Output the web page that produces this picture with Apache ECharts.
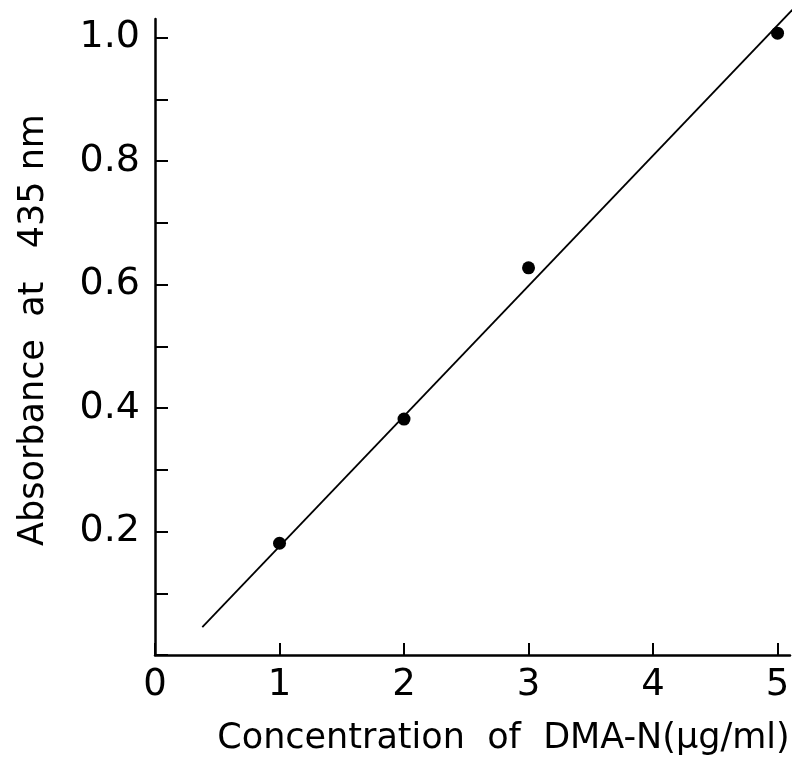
<!DOCTYPE html>
<html>
<head>
<meta charset="utf-8">
<script src="https://cdn.jsdelivr.net/npm/echarts@6/dist/echarts.min.js"></script>
<style>
  html, body { margin: 0; padding: 0; background: #fff; }
  #main { width: 795px; height: 758px; }
</style>
</head>
<body>
<div id="main"></div>
<script>
// concentration (ug/ml) and measured absorbance
const conc = [1, 2, 3, 5];
const absorbance = [0.181, 0.382, 0.627, 1.007];
// drawn calibration line end points
const fitX = [0.38, 5.12];
const fitY = [0.045, 1.045];
const yLabels = ['0.2', '0.4', '0.6', '0.8', '1.0'];

const font = "'DejaVu Sans', sans-serif";
let myChart = echarts.init(document.getElementById('main'));

let option = {
    animation: false,
    grid: {
        left: 155,
        right: 5,
        top: 19,
        bottom: 103,
        containLabel: false,
        outerBoundsMode: 'none'
    },
    xAxis: {
        type: 'value',
        min: 0,
        max: 5.1,
        interval: 1,
        name: 'Concentration  of  DMA-N(\u03bcg/ml)',
        nameLocation: 'middle',
        nameGap: 66,
        nameTextStyle: {
            color: '#000',
            fontFamily: font,
            fontSize: 35,
            padding: [0, 0, 0, 62]
        },
        axisLine: {lineStyle: {color: '#000', width: 2.5}},
        axisTick: {inside: true, length: 12, lineStyle: {color: '#000', width: 2}},
        axisLabel: {
            color: '#000',
            fontFamily: font,
            fontSize: 37,
            margin: 12,
            showMaxLabel: false,
            formatter: function (v) {
                return Number.isInteger(v) ? String(v) : '';
            }
        },
        splitLine: {show: false}
    },
    yAxis: {
        type: 'value',
        min: 0,
        max: 1.03,
        interval: 0.1,
        name: 'Absorbance  at   435 nm',
        nameLocation: 'middle',
        nameRotate: 90,
        nameGap: 104,
        nameTextStyle: {
            color: '#000',
            fontFamily: font,
            fontSize: 35,
            padding: [0, 0, 0, 14]
        },
        axisLine: {lineStyle: {color: '#000', width: 2.5}},
        axisTick: {inside: true, length: 13, lineStyle: {color: '#000', width: 2}},
        axisLabel: {
            color: '#000',
            fontFamily: font,
            fontSize: 38,
            margin: 15,
            showMaxLabel: false,
            formatter: function (v) {
                let s = v.toFixed(1);
                return yLabels.indexOf(s) >= 0 ? s : '';
            }
        },
        splitLine: {show: false}
    },
    series: [
        {
            name: 'fit',
            type: 'line',
            data: fitX.map((x, i) => [x, fitY[i]]),
            showSymbol: false,
            clip: false,
            lineStyle: {color: '#000', width: 1.8}
        },
        {
            name: 'DMA-N',
            type: 'scatter',
            data: conc.map((x, i) => [x, absorbance[i]]),
            symbol: 'circle',
            symbolSize: 13,
            itemStyle: {color: '#000', opacity: 1}
        }
    ]
};
myChart.setOption(option);
</script>
</body>
</html>
